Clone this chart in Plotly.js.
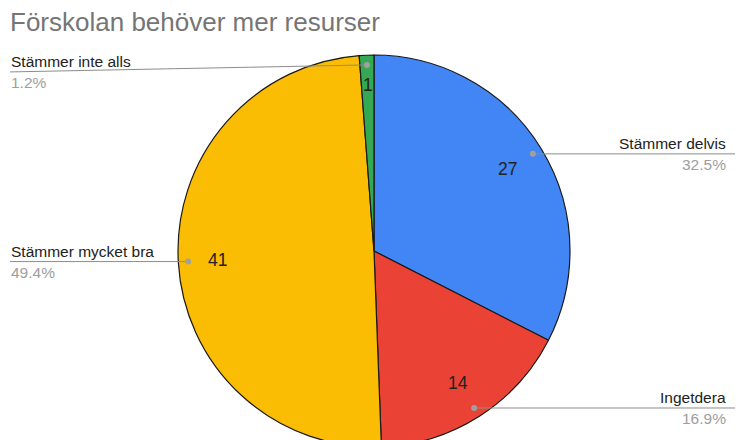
<!DOCTYPE html>
<html>
<head>
<meta charset="utf-8">
<script src="https://cdn.plot.ly/plotly-3.0.1.min.js"></script>
<style>
html,body{margin:0;padding:0;overflow:hidden;background:#fff;}
#chart{width:740px;height:460px;}
</style>
</head>
<body>
<div id="chart"></div>
<script>
// ---- data ----
const title = "Förskolan behöver mer resurser";
const categories = ["Stämmer delvis", "Ingetdera", "Stämmer mycket bra", "Stämmer inte alls"];
const values = [27, 14, 41, 1];
const percentLabels = ["32.5%", "16.9%", "49.4%", "1.2%"];
const colors = ["#4285f4", "#ea4335", "#fbbc04", "#34a853"];

// ---- geometry (layout) ----
const W = 740, H = 460;
const cxPx = 374, cyPx = 251, rPx = 196;
const domX = [(cxPx - rPx) / W, (cxPx + rPx) / W];
const domY = [1 - (cyPx + rPx) / H, 1 - (cyPx - rPx) / H];
const px = x => x / W;
const py = y => 1 - y / H;

const total = values.reduce((a, b) => a + b, 0);
const shapes = [];
const annotations = [];
let cum = 0;
const labelSide = ["right", "right", "left", "left"];
const lineYOffset = [0, 0, 0, 7];
values.forEach((v, i) => {
  const mid = (cum + v / 2) / total * 2 * Math.PI;
  cum += v;
  const sx = Math.sin(mid), sy = -Math.cos(mid);
  // value text inside
  const tr = (i === 3 ? 0.85 : 0.8) * rPx;
  annotations.push({
    xref: 'paper', yref: 'paper', x: px(cxPx + sx * tr), y: py(cyPx + sy * tr),
    text: String(v), showarrow: false, xanchor: 'center', yanchor: 'middle',
    font: {family: 'Liberation Sans, Arial, sans-serif', size: 17.5, color: '#222'}
  });
  // leader dot
  const dx = cxPx + sx * 0.95 * rPx, dy = cyPx + sy * 0.95 * rPx;
  const ly = dy + lineYOffset[i];
  const endX = labelSide[i] === 'right' ? 735 : 10;
  shapes.push({type: 'line', xref: 'paper', yref: 'paper',
    x0: px(dx), y0: py(dy), x1: px(endX), y1: py(ly),
    line: {color: '#8c8c8c', width: 1}});
  shapes.push({type: 'circle', xref: 'paper', yref: 'paper',
    x0: px(dx - 3), x1: px(dx + 3), y0: py(dy - 3), y1: py(dy + 3),
    fillcolor: '#a0a0a0', line: {width: 0}});
  const tx = labelSide[i] === 'right' ? 727 : 10;
  const xa = labelSide[i] === 'right' ? 'right' : 'left';
  annotations.push({
    xref: 'paper', yref: 'paper', x: px(tx), y: py(ly - 1),
    text: categories[i], showarrow: false, xanchor: xa, yanchor: 'bottom',
    borderpad: 0,
    font: {family: 'Liberation Sans, Arial, sans-serif', size: 15.5, color: '#222'}
  });
  annotations.push({
    xref: 'paper', yref: 'paper', x: px(tx), y: py(ly + 1),
    text: percentLabels[i], showarrow: false, xanchor: xa, yanchor: 'top',
    borderpad: 0,
    font: {family: 'Liberation Sans, Arial, sans-serif', size: 15.5, color: '#9e9e9e'}
  });
});

const trace = {
  type: 'pie',
  labels: categories,
  values: values,
  sort: false,
  direction: 'clockwise',
  rotation: 0,
  marker: {colors: colors, line: {color: '#1a1a1a', width: 1.2}},
  textinfo: 'none',
  hoverinfo: 'label+value+percent',
  domain: {x: domX, y: domY},
  showlegend: false
};

const layout = {
  width: W, height: H,
  margin: {l: 0, r: 0, t: 0, b: 0},
  paper_bgcolor: '#ffffff',
  title: {
    text: title, x: px(10), xref: 'paper', xanchor: 'left',
    y: 1 - 13 / H, yref: 'container', yanchor: 'top',
    font: {family: 'Liberation Sans, Arial, sans-serif', size: 26, color: '#757575'}
  },
  shapes: shapes,
  annotations: annotations,
  showlegend: false
};

Plotly.newPlot('chart', [trace], layout, {displayModeBar: false, staticPlot: true});
</script>
</body>
</html>
